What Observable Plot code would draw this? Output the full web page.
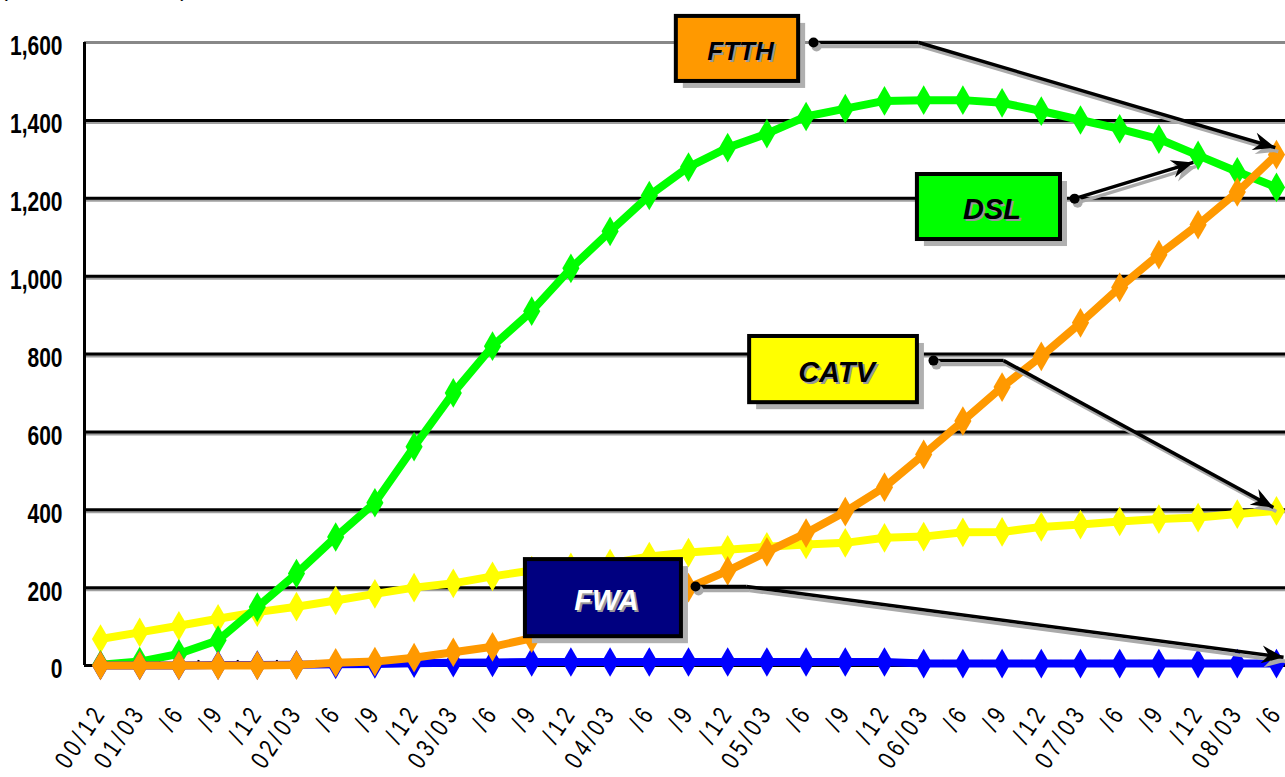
<!DOCTYPE html>
<html>
<head>
<meta charset="utf-8">
<script src="https://cdn.jsdelivr.net/npm/d3@7"></script>
<script src="https://cdn.jsdelivr.net/npm/@observablehq/plot@0.6"></script>
<style>
  html, body { margin: 0; padding: 0; background: #fff; overflow: hidden; }
  #chart svg { display: block; }
  g[aria-label="x-axis tick label"] text { letter-spacing: 5px; }
</style>
</head>
<body>
<div id="chart"></div>
<script>
// ---- data ----
const periods = ["00/12","01/03","/6","/9","/12","02/03","/6","/9","/12","03/03","/6","/9","/12","04/03","/6","/9","/12","05/03","/6","/9","/12","06/03","/6","/9","/12","07/03","/6","/9","/12","08/03","/6"];
const dsl  = [2,10,30,65,150,236,330,418,562,700,820,910,1020,1115,1207,1280,1330,1366,1410,1430,1450,1452,1452,1445,1424,1401,1378,1352,1310,1268,1228];
const ftth = [0,0,0,0,0,1,7,10,20,34,48,70,95,125,160,200,243,292,340,395,458,542,628,715,794,880,971,1055,1132,1216,1312];
const catv = [68,85,102,120,137,151,167,184,200,211,229,244,252,262,280,290,297,305,311,315,328,331,342,343,356,362,370,376,380,389,397];
const fwa  = [0,0,0,1,1,2,3,4,6,7,8,9,9,9,9,9,9,9,9,9,9,5,5,5,5,5,5,5,5,5,5];
const seriesNames = ["CATV","DSL","FWA","FTTH"];
const yTicks = [0,200,400,600,800,1000,1200,1400,1600];
const unitText = "(Unit: 10 thousand)";

// ---- styling / annotation layout ----
const colors = {DSL:"#00ff00", FTTH:"#ff9900", CATV:"#ffff00", FWA:"#0000ff"};
const values = {DSL:dsl, FTTH:ftth, CATV:catv, FWA:fwa};
const callouts = [
  {label:"FTTH", fill:"#ff9900", text:"#000", size:26, x1:14.69, x2:17.81, y1:1500, y2:1667,
   pts:[[18.19,1600],[20.87,1600]], tip:[29.97,1330]},
  {label:"DSL", fill:"#00ff00", text:"#000", size:29, x1:20.84, x2:24.49, y1:1094, y2:1261,
   pts:[[24.85,1199]], tip:[27.88,1292]},
  {label:"CATV", fill:"#ffff00", text:"#000", size:29, x1:16.56, x2:20.84, y1:675, y2:845,
   pts:[[21.25,783],[23.04,783]], tip:[29.92,406]},
  {label:"FWA", fill:"#000080", text:"#fff", size:29, x1:10.84, x2:14.82, y1:74, y2:272,
   pts:[[15.18,203],[16.48,203]], tip:[30.18,21]}
];

const rows = seriesNames.flatMap(s => values[s].map((v, i) => ({series:s, i, v})));
const xDomain = [-0.408, 30.23];
const sans = "'Liberation Sans', Arial, sans-serif";

// stealth arrowhead pointing up with its tip at the origin
const stealth = {
  draw(ctx) {
    ctx.moveTo(0, 0);
    ctx.lineTo(-9, 22);
    ctx.lineTo(0, 15);
    ctx.lineTo(9, 22);
    ctx.closePath();
  }
};

const seriesMarks = seriesNames.flatMap(s => {
  const d = rows.filter(r => r.series === s);
  return [
    Plot.line(d, {x:"i", y:"v", stroke:colors[s], strokeWidth:8, strokeLinejoin:"round"}),
    Plot.dot(d, {x:"i", y:"v", symbol:"diamond", r:9, fill:colors[s], stroke:null})
  ];
});

const segs = callouts.flatMap(c => {
  const p = c.pts, out = [];
  for (let k = 0; k < p.length - 1; k++) out.push({x1:p[k][0], y1:p[k][1], x2:p[k+1][0], y2:p[k+1][1]});
  const last = p[p.length - 1];
  out.push({x1:last[0], y1:last[1], x2:c.tip[0], y2:c.tip[1]});
  return out;
});
const dots = callouts.map(c => ({x:c.pts[0][0], y:c.pts[0][1]}));

function build(heads) {
  return Plot.plot({
    width: 1285,
    height: 777,
    marginTop: 42,
    marginBottom: 112,
    marginLeft: 84,
    marginRight: 0,
    style: {fontFamily: sans, background: "#fff", overflow: "visible"},
    x: {type: "linear", domain: xDomain},
    y: {domain: [0, 1600]},
    marks: [
      Plot.text([unitText], {frameAnchor:"top-left", dx:-84, dy:-47, text:d => d, textAnchor:"start", lineAnchor:"bottom", fontSize:22, fill:"#000", style:"letter-spacing:4px"}),
      Plot.ruleY(yTicks.filter(t => t > 0 && t < 1600), {stroke:"#a0a0a0", strokeWidth:3, dy:2}),
      Plot.ruleY(yTicks.filter(t => t > 0 && t < 1600), {stroke:"#000", strokeWidth:3}),
      Plot.ruleY([1600], {stroke:"#888", strokeWidth:3}),
      Plot.ruleX([xDomain[0]], {y1:0, y2:1600, stroke:"#000", strokeWidth:3}),
      Plot.ruleY([0], {stroke:"#000", strokeWidth:3}),
      Plot.ruleX(d3.range(30).map(i => i + 0.5), {y1:0, y2:13, stroke:"#000", strokeWidth:2}),
      Plot.axisY({ticks: yTicks, tickFormat: d3.format(","), tickSize: 0, tickPadding: 22, fontSize: 28, fontWeight: "bold", dy: 4, label: null}),
      Plot.axisX({ticks: d3.range(31), tickFormat: i => periods[i], tickRotate: -56, tickSize: 0, tickPadding: 42, dx: 0, fontSize: 26, label: null}),
      ...seriesMarks,
      Plot.link(segs, {x1:"x1", y1:"y1", x2:"x2", y2:"y2", stroke:"#aaa", strokeWidth:3.5, dx:3, dy:4}),
      Plot.dot(heads, {x:"x", y:"y", symbol:stealth, r:10, rotate:"angle", fill:"#aaa", dx:3, dy:4}),
      Plot.link(segs, {x1:"x1", y1:"y1", x2:"x2", y2:"y2", stroke:"#000", strokeWidth:3.5}),
      Plot.dot(heads, {x:"x", y:"y", symbol:stealth, r:10, rotate:"angle", fill:"#000"}),
      Plot.dot(dots, {x:"x", y:"y", r:5, fill:"#aaa", dx:3, dy:4}),
      Plot.dot(dots, {x:"x", y:"y", r:5, fill:"#000"}),
      Plot.rect(callouts, {x1:"x1", x2:"x2", y1:"y1", y2:"y2", fill:"#b0b0b0", dx:7, dy:7}),
      Plot.rect(callouts, {x1:"x1", x2:"x2", y1:"y1", y2:"y2", fill:"fill", stroke:"#000", strokeWidth:4}),
      Plot.text(callouts, {x:c => (c.x1 + c.x2) / 2, y:c => (c.y1 + c.y2) / 2, text:"label", fontSize:c => c.size, fontWeight:"bold", fontStyle:"italic", fill:"#999", dx:5, dy:5}),
      Plot.text(callouts, {x:c => (c.x1 + c.x2) / 2, y:c => (c.y1 + c.y2) / 2, text:"label", fontSize:c => c.size, fontWeight:"bold", fontStyle:"italic", fill:c => c.text, dx:3, dy:3})
    ]
  });
}

// first pass: obtain the scales to orient the arrowheads in screen space
const probe = build([]);
const sx = probe.scale("x"), sy = probe.scale("y");
const heads = callouts.map(c => {
  const last = c.pts[c.pts.length - 1];
  const dxp = sx.apply(c.tip[0]) - sx.apply(last[0]);
  const dyp = sy.apply(c.tip[1]) - sy.apply(last[1]);
  return {x:c.tip[0], y:c.tip[1], angle: Math.atan2(dxp, -dyp) * 180 / Math.PI};
});
const chart = build(heads);

// condense tick label glyphs horizontally (the reference uses a narrow gothic face)
function condense(svg, label, k) {
  svg.querySelectorAll(`g[aria-label="${label}"] text`).forEach(t => {
    const xa = t.getAttribute("x");
    let tr = t.getAttribute("transform") || "";
    if (xa !== null && !isNaN(+xa) && +xa !== 0) {
      tr = `translate(${+xa},0) ` + tr;
      t.removeAttribute("x");
    }
    t.setAttribute("transform", `${tr} scale(${k},1)`);
  });
}
condense(chart, "y-axis tick label", 0.75);
condense(chart, "x-axis tick label", 0.78);
document.getElementById("chart").appendChild(chart);
</script>
</body>
</html>
